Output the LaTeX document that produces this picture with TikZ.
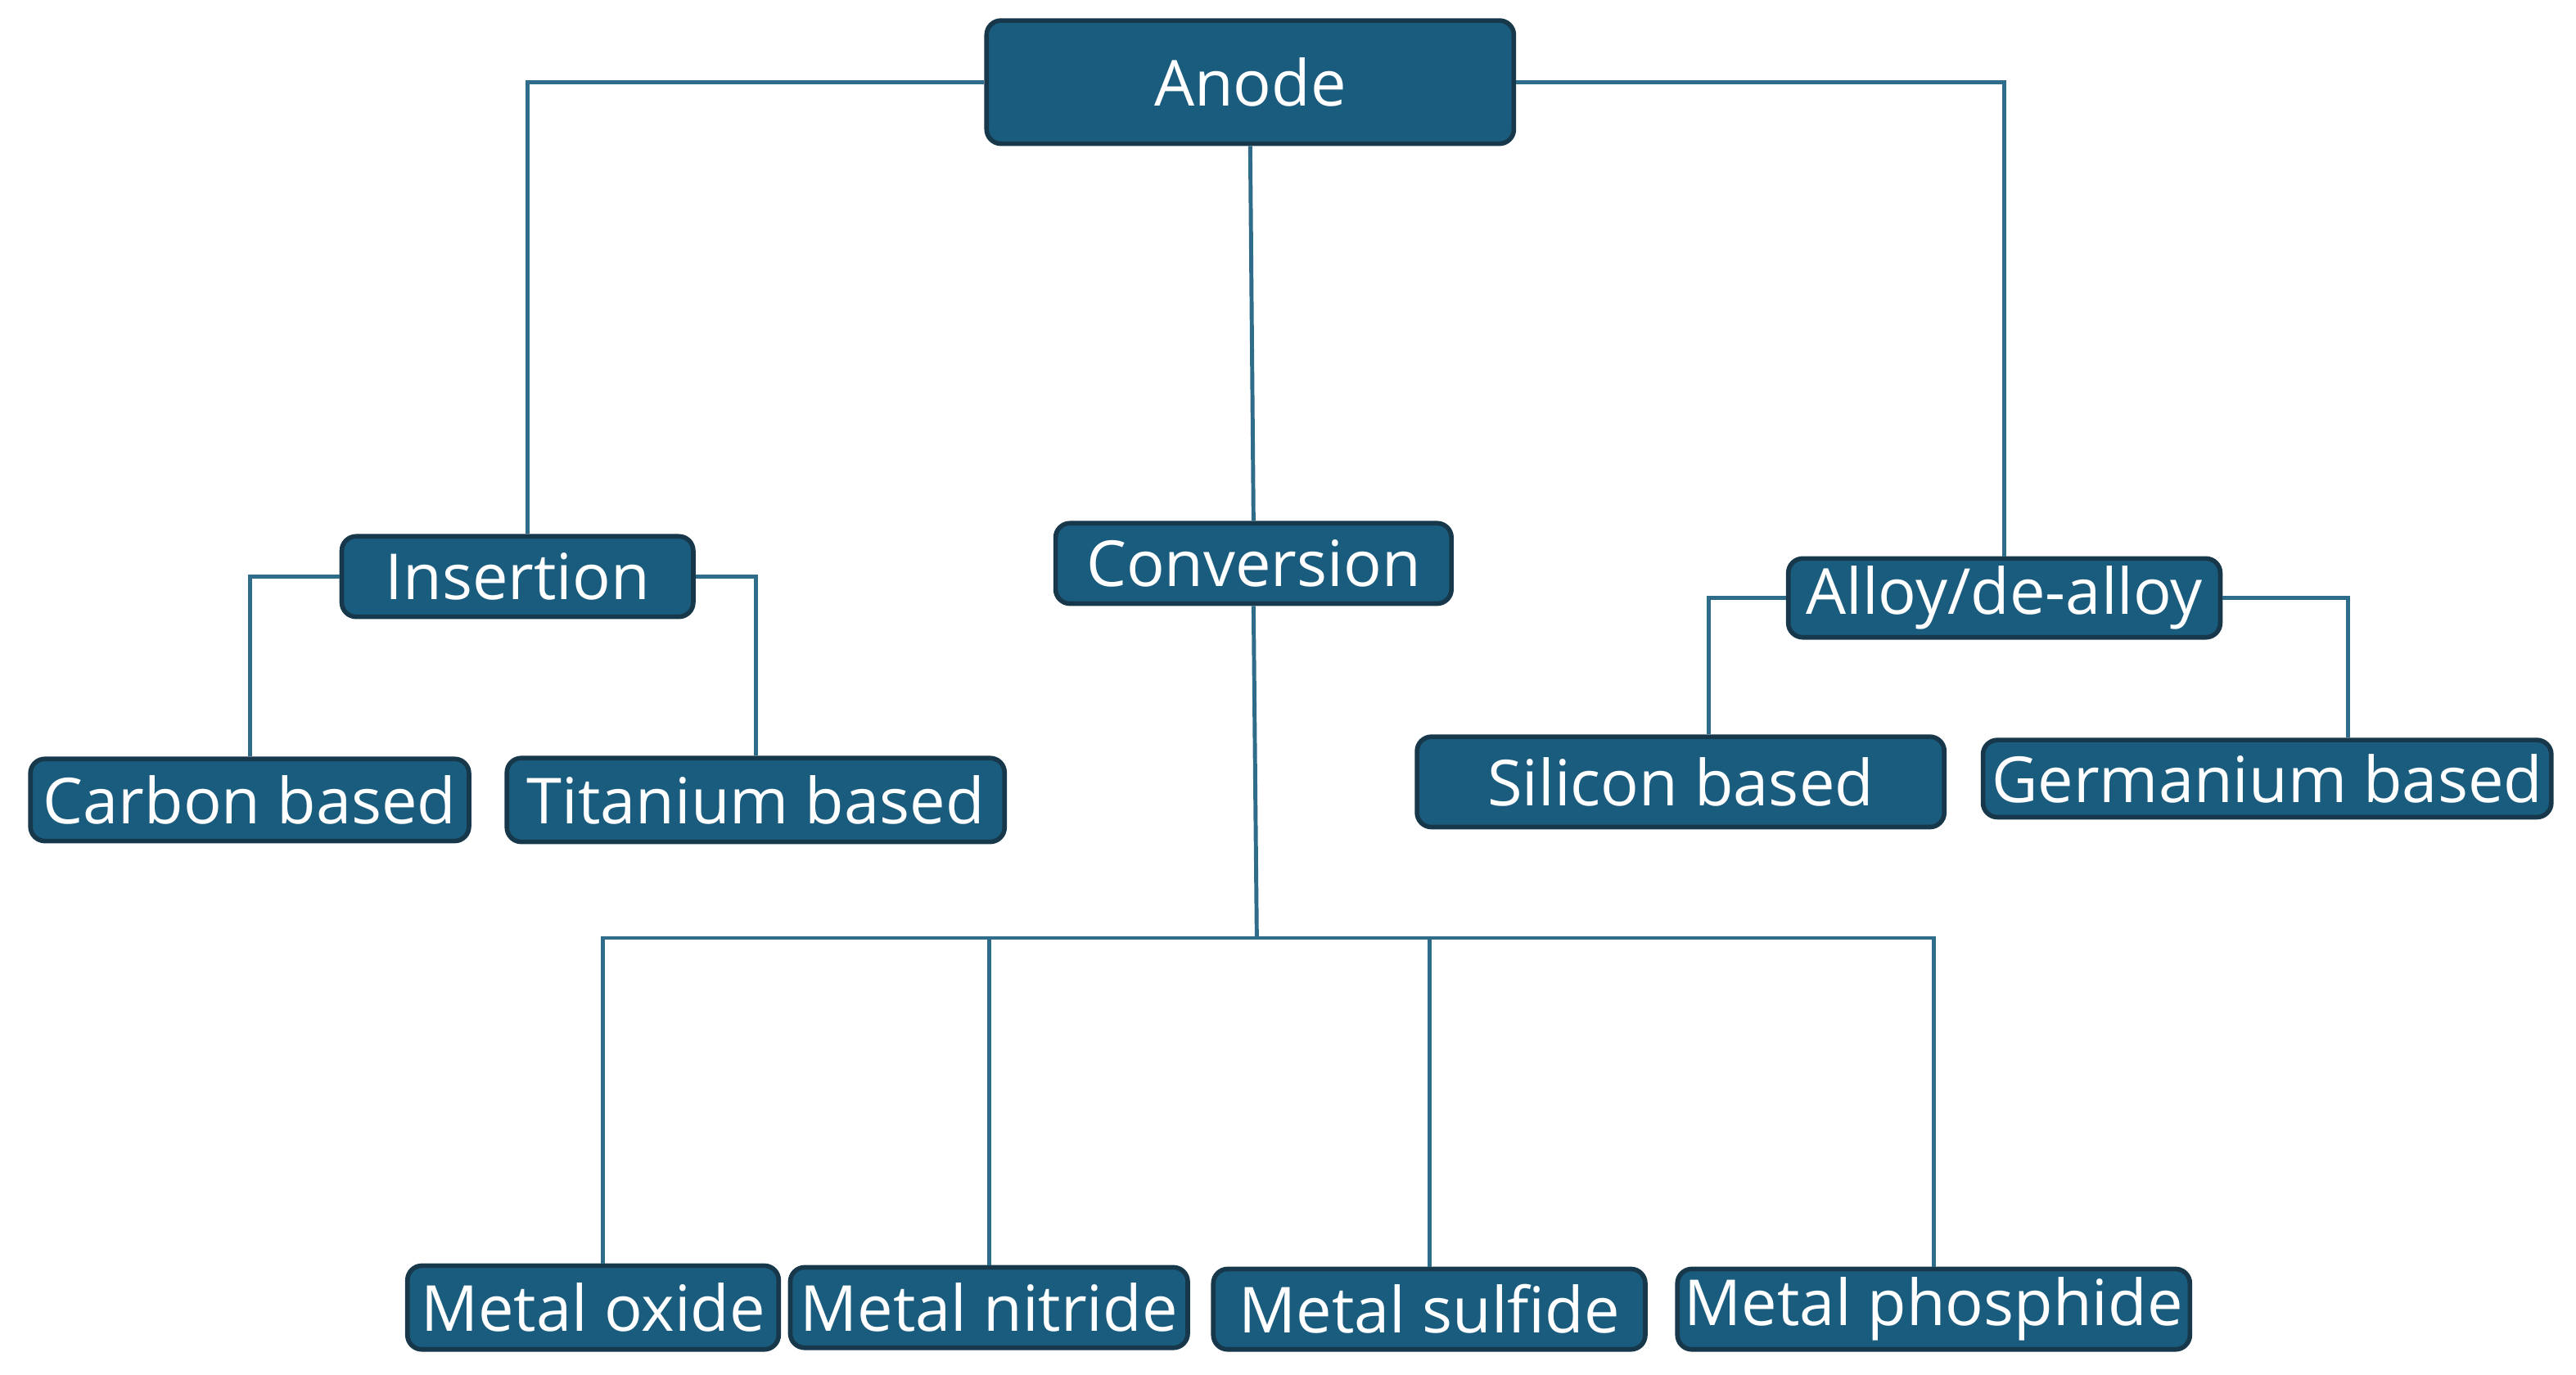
\documentclass[tikz,border=0pt]{standalone}
\usepackage{fontspec}
\setmainfont{Open Sans}
\usepackage{tikz}
\usepackage{xcolor}
\definecolor{boxfill}{HTML}{1A5C7E}
\definecolor{boxdraw}{HTML}{17384A}
\definecolor{linecol}{HTML}{2F6C8A}

\begin{document}
\begin{tikzpicture}[x=0.02cm,y=-0.02cm,
  box/.style={draw=boxdraw,line width=1.6pt,fill=boxfill,rounded corners=5pt,text=white,font=\fontsize{22}{24}\selectfont,inner sep=0pt},
  link/.style={draw=linecol,line width=1.4pt}]
\useasboundingbox (0,0) rectangle (1568,837);
\node[box,minimum width=6.42cm,minimum height=1.5cm] (anode) at (761,50) {Anode};
\node[box,minimum width=4.28cm,minimum height=0.98cm] (insertion) at (315,351) {Insertion};
\node[box,minimum width=4.82cm,minimum height=0.98cm] (conversion) at (763,343) {Conversion};
\node[box,minimum width=5.26cm,minimum height=0.96cm] (alloy) at (1220,364) {Alloy/de-alloy};
\node[box,minimum width=5.34cm,minimum height=1.0cm] (carbon) at (152,487) {Carbon based};
\node[box,minimum width=6.06cm,minimum height=1.02cm] (titanium) at (460,487) {Titanium based};
\node[box,minimum width=6.42cm,minimum height=1.1cm] (silicon) at (1023,476) {Silicon based};
\node[box,minimum width=6.92cm,minimum height=0.94cm] (germanium) at (1380,474) {Germanium based};
\node[box,minimum width=4.52cm,minimum height=1.02cm] (oxide) at (361,796) {Metal oxide};
\node[box,minimum width=4.84cm,minimum height=0.98cm] (nitride) at (602,796) {Metal nitride};
\node[box,minimum width=5.26cm,minimum height=0.98cm] (sulfide) at (870,797) {Metal sulfide};
\node[box,minimum width=6.24cm,minimum height=0.98cm] (phosphide) at (1177,797) {Metal phosphide};

\coordinate (bus) at (765,571);
\draw[link] (anode.west) -| (insertion.north -| 321,0);
\draw[link] (anode.east) -| (alloy.north);
\draw[link] (anode.south) -- (conversion.north);
\draw[link] (insertion.west) -| (carbon.north);
\draw[link] (insertion.east) -| (titanium.north);
\draw[link] (alloy.west) -| (silicon.north -| 1040,0);
\draw[link] (alloy.east) -| (germanium.north -| 1429,0);
\draw[link] (conversion.south) -- (bus);
\draw[link] (bus) -| (oxide.north -| 367,0);
\draw[link] (bus) -| (nitride.north);
\draw[link] (bus) -| (sulfide.north);
\draw[link] (bus) -| (phosphide.north);
\end{tikzpicture}
\end{document}
